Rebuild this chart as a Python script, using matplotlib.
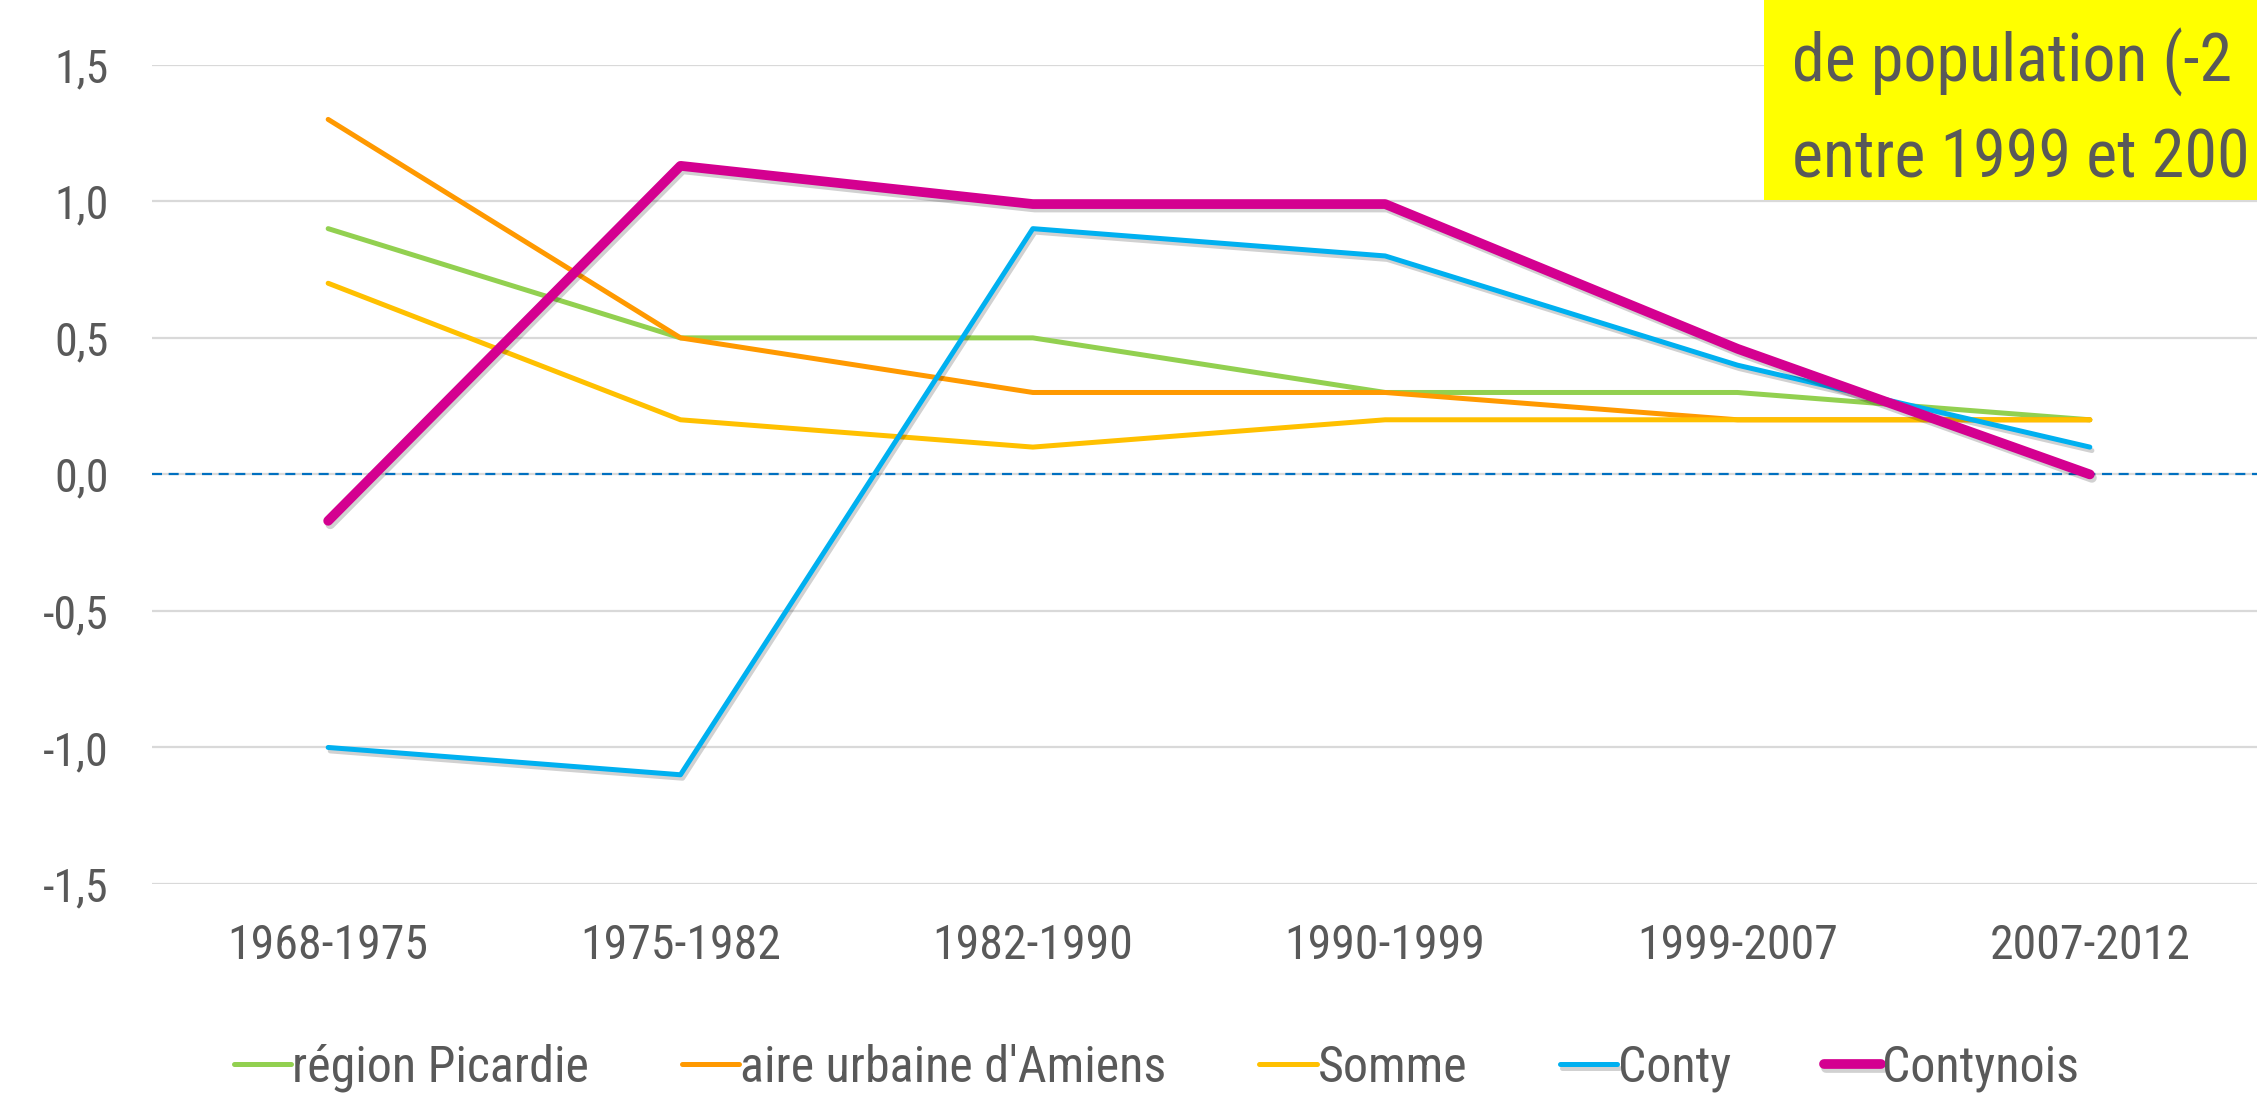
import matplotlib
matplotlib.use("Agg")
import matplotlib.pyplot as plt
import matplotlib.patheffects as pe
from matplotlib.patches import Rectangle

plt.rcParams['font.family'] = ['Roboto Condensed', 'Liberation Sans Narrow', 'Roboto', 'DejaVu Sans']

# Data
periods = ['1968-1975', '1975-1982', '1982-1990', '1990-1999', '1999-2007', '2007-2012']
picardie = [0.9, 0.5, 0.5, 0.3, 0.3, 0.2]
amiens = [1.3, 0.5, 0.3, 0.3, 0.2, 0.2]
somme = [0.7, 0.2, 0.1, 0.2, 0.2, 0.2]
conty = [-1.0, -1.1, 0.9, 0.8, 0.4, 0.1]
contynois = [-0.17, 1.13, 0.99, 0.99, 0.46, 0.0]
yticks = [-1.5, -1.0, -0.5, 0.0, 0.5, 1.0, 1.5]

grey = '#595959'
W, H = 2257, 1097

fig = plt.figure(figsize=(W / 100, H / 100), dpi=100)
ax = fig.add_axes([152 / W, 1 - 884 / H, 2114 / W, (884 - 64.8) / H])

x = list(range(len(periods)))
shadow = [pe.SimpleLineShadow(offset=(1.5, -2.5), shadow_color='k', alpha=0.18), pe.Normal()]

ax.plot(x, picardie, color='#92D050', lw=3.6, solid_capstyle='round', label='région Picardie', zorder=3)
ax.plot(x, amiens, color='#FF9900', lw=3.6, solid_capstyle='round', label="aire urbaine d'Amiens", zorder=3)
ax.plot(x, somme, color='#FFC000', lw=3.6, solid_capstyle='round', label='Somme', zorder=3)
ax.plot(x, conty, color='#00B0F0', lw=3.6, solid_capstyle='round', label='Conty', zorder=4,
        path_effects=shadow)
ax.plot(x, contynois, color='#D40090', lw=7, solid_capstyle='round', label='Contynois', zorder=5,
        path_effects=shadow)

# zero line
ax.axhline(0, color='#0070C0', lw=1.6, ls=(0, (4.5, 3)), zorder=2)

ax.set_xlim(-0.5, 5.5)
ax.set_ylim(-1.5, 1.5)
ax.set_xticks(x)
ax.set_xticklabels(periods)
ax.set_yticks(yticks)
ax.set_yticklabels([('%.1f' % v).replace('.', ',') for v in yticks])
ax.tick_params(axis='both', length=0, labelcolor=grey)
ax.tick_params(axis='y', pad=31, labelsize=33)
ax.tick_params(axis='x', pad=28, labelsize=34.5)
ax.grid(axis='y', color='#D9D9D9', lw=1.6, zorder=0)
ax.set_axisbelow(True)
for s in ax.spines.values():
    s.set_visible(False)

leg = fig.legend(loc='center', bbox_to_anchor=(0.5125, 1 - 1068 / H), ncol=5, frameon=False,
                 fontsize=36, handlelength=1.15, handletextpad=0.02, columnspacing=1.85,
                 labelcolor=grey)

# yellow text box, cut at the right edge
fig.patches.append(Rectangle((1764 / W, 1 - 200 / H), 1.0, 1.0, transform=fig.transFigure,
                             facecolor='#FFFF00', edgecolor='none', zorder=1))
fig.text(1792 / W, 1 - 82 / H, 'de population (-2', fontsize=47.5, color=grey, va='baseline',
         ha='left', zorder=3)
fig.text(1792 / W, 1 - 178 / H, 'entre 1999 et 200', fontsize=47.5, color=grey, va='baseline',
         ha='left', zorder=3)

fig.savefig('out.png', dpi=100)
